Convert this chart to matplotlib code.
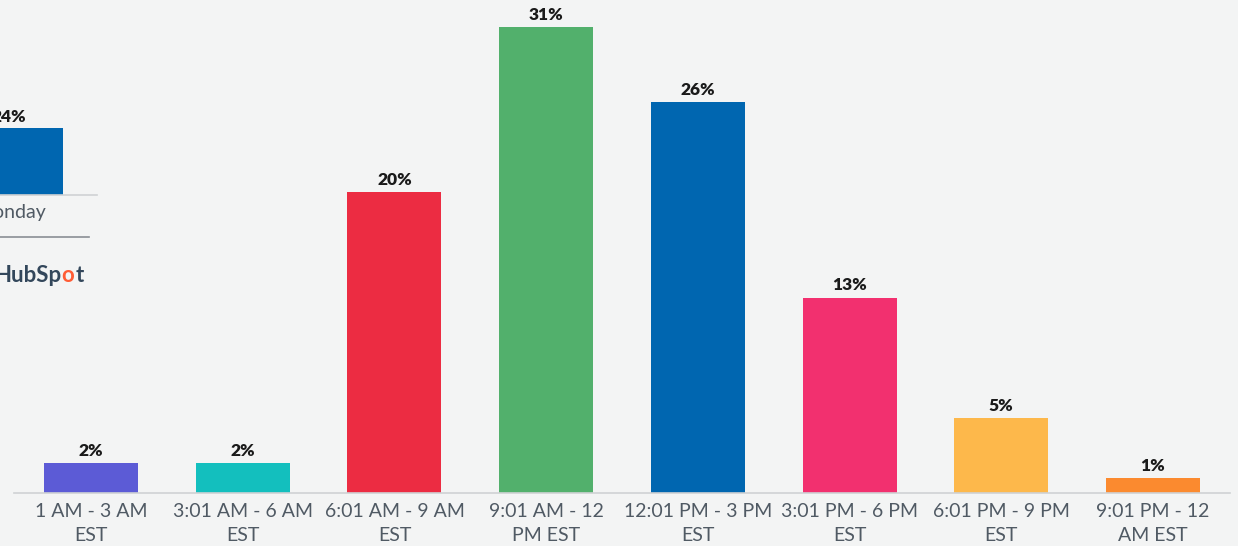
import matplotlib
matplotlib.use("Agg")
import matplotlib.pyplot as plt

# time slots and share of responses (%)
slots = ["1 AM - 3 AM\nEST", "3:01 AM - 6 AM\nEST", "6:01 AM - 9 AM\nEST", "9:01 AM - 12\nPM EST",
         "12:01 PM - 3 PM\nEST", "3:01 PM - 6 PM\nEST", "6:01 PM - 9 PM\nEST", "9:01 PM - 12\nAM EST"]
shares = [2, 2, 20, 31, 26, 13, 5, 1]
colors = ["#5c5bd6", "#13bfbe", "#ec2c42", "#52b06c", "#0066b0", "#f2306f", "#fdb84b", "#fb8a2f"]

# fragment of the neighbouring chart on the left edge
frag_label = "Monday"
frag_value = 24

W, H = 1238, 546
bg = "#f3f4f4"
plt.rcParams["font.family"] = ["Lato", "DejaVu Sans"]

fig = plt.figure(figsize=(W / 100, H / 100), dpi=100, facecolor=bg)

# main chart
ax = fig.add_axes([14 / W, 53 / H, 1216 / W, 493 / H], facecolor="none")
x = list(range(len(slots)))
bars = ax.bar(x, shares, width=0.62, color=colors)
ax.bar_label(bars, labels=[f"{v}%" for v in shares], padding=3,
             fontsize=12.5, fontweight="heavy", color="#1a1a1a")
ax.set_xlim(-0.508, len(slots) - 0.492)
ax.set_ylim(0, 493 / 15.03)
ax.set_xticks(x)
ax.set_xticklabels(slots, fontsize=14.0, color="#505a64", linespacing=1.5)
ax.tick_params(axis="x", length=0, pad=7)
ax.set_yticks([])
for s in ["top", "right", "left"]:
    ax.spines[s].set_visible(False)
ax.spines["bottom"].set_color("#cfd2d4")
ax.spines["bottom"].set_linewidth(1.2)

# partial chart cut off at the left edge
ax2 = fig.add_axes([-31 / W, (H - 195) / H, 128 / W, 67 / H], facecolor="none")
ax2.bar([0], [frag_value], width=94 / 128, color="#0066b0", align="edge")
ax2.set_xlim(0, 1)
ax2.set_ylim(0, frag_value)
ax2.set_xticks([])
ax2.set_yticks([])
for s in ["top", "right", "left"]:
    ax2.spines[s].set_visible(False)
ax2.spines["bottom"].set_color("#cfd2d4")
ax2.spines["bottom"].set_linewidth(1.2)

fig.text(26 / W, (H - 117) / H, f"{frag_value}%", ha="right", va="center",
         fontsize=12.5, fontweight="heavy", color="#1a1a1a")
fig.text(46 / W, (H - 213) / H, frag_label, ha="right", va="center",
         fontsize=14.0, color="#505a64")
fig.add_artist(plt.Line2D([0, 89 / W], [(H - 237) / H] * 2, color="#8a8f94", lw=1.2))
fig.text(61 / W, (H - 275) / H, "HubSp", ha="right", va="center",
         fontsize=16, fontweight="bold", color="#33475b")
fig.text(68 / W, (H - 275) / H, "o", ha="center", va="center",
         fontsize=16, fontweight="bold", color="#ff5c35")
fig.text(76 / W, (H - 275) / H, "t", ha="left", va="center",
         fontsize=16, fontweight="bold", color="#33475b")

fig.savefig("out.png", dpi=100, facecolor=bg)
